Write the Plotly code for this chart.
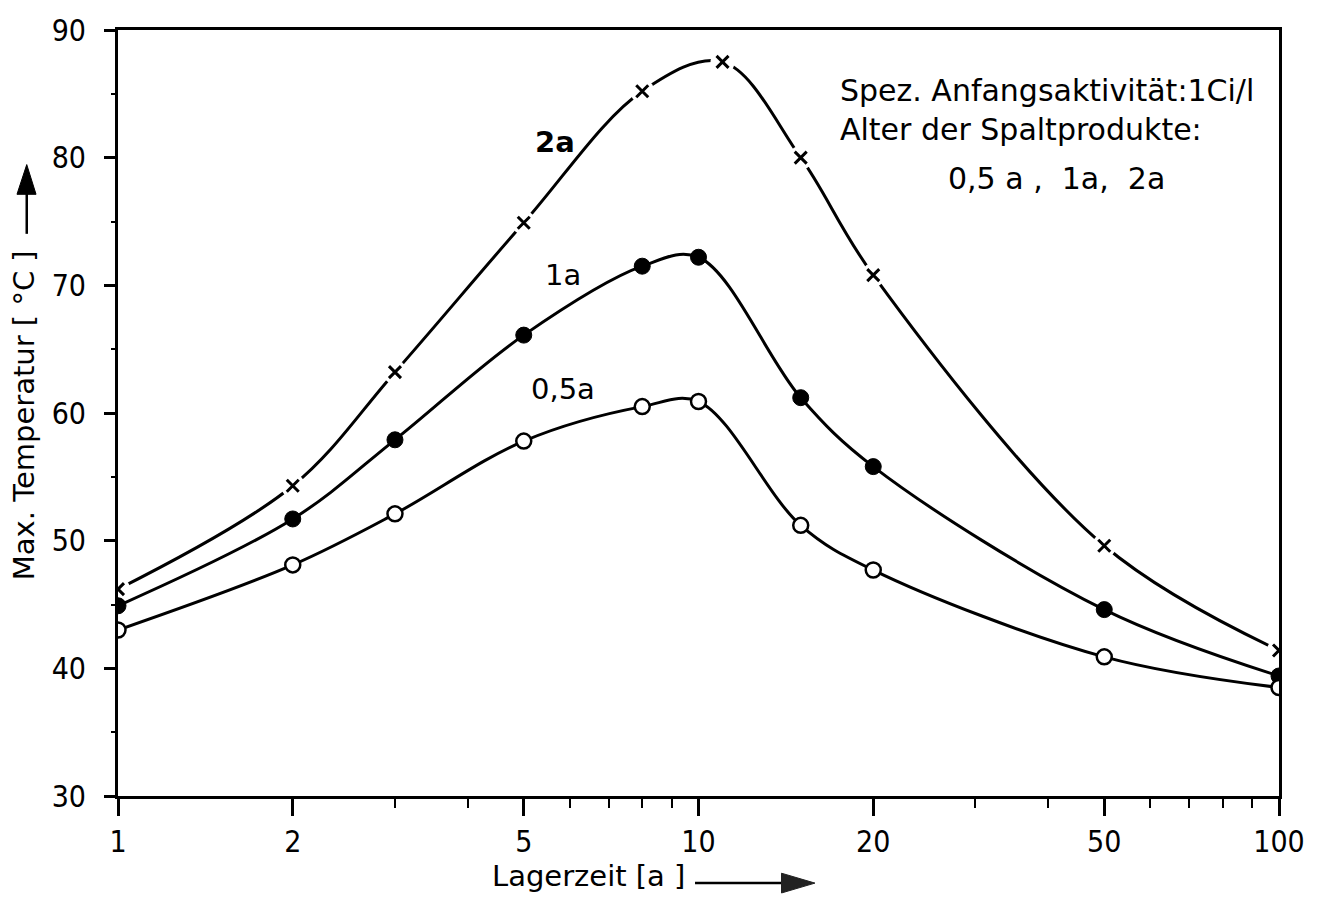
import plotly.graph_objects as go

# Data
x_2a = [1, 2, 3, 5, 8, 11, 15, 20, 50, 100]
y_2a = [46.2, 54.3, 63.2, 74.9, 85.2, 87.5, 80.0, 70.8, 49.6, 41.4]

x_1a = [1, 2, 3, 5, 8, 10, 15, 20, 50, 100]
y_1a = [44.9, 51.7, 57.9, 66.1, 71.5, 72.2, 61.2, 55.8, 44.6, 39.4]

x_05a = [1, 2, 3, 5, 8, 10, 15, 20, 50, 100]
y_05a = [43.0, 48.1, 52.1, 57.8, 60.5, 60.9, 51.2, 47.7, 40.9, 38.5]

x_tickvals = [1, 2, 5, 10, 20, 50, 100]
x_ticktext = ["1", "2", "5", "10", "20", "50", "100"]
x_minor = [3, 4, 6, 7, 8, 9, 30, 40, 60, 70, 80, 90]
y_tickvals = [30, 40, 50, 60, 70, 80, 90]

TICKFONT = "DejaVu Sans Condensed, DejaVu Sans, Arial, sans-serif"
TEXTFONT = "DejaVu Sans, Arial, sans-serif"

fig = go.Figure()

# 2a curve with gaps around crosses
fig.add_trace(go.Scatter(x=x_2a, y=y_2a, mode="lines",
                         line=dict(color="black", width=3, shape="spline", smoothing=1.0),
                         hoverinfo="skip", showlegend=False))
fig.add_trace(go.Scatter(x=x_2a, y=y_2a, mode="markers",
                         marker=dict(symbol="circle", size=24, color="white",
                                     line=dict(width=0)),
                         hoverinfo="skip", showlegend=False))
fig.add_trace(go.Scatter(x=x_2a, y=y_2a, mode="markers", name="2a",
                         marker=dict(symbol="x-thin", size=12,
                                     line=dict(width=3, color="black")),
                         showlegend=False))

# 1a curve
fig.add_trace(go.Scatter(x=x_1a, y=y_1a, mode="lines+markers", name="1a",
                         line=dict(color="black", width=3, shape="spline", smoothing=1.0),
                         marker=dict(symbol="circle", size=16, color="black",
                                     line=dict(width=1, color="black")),
                         showlegend=False))

# 0,5a curve
fig.add_trace(go.Scatter(x=x_05a, y=y_05a, mode="lines+markers", name="0,5a",
                         line=dict(color="black", width=3, shape="spline", smoothing=1.0),
                         marker=dict(symbol="circle", size=15, color="white",
                                     line=dict(width=2.5, color="black")),
                         showlegend=False))

annotations = [
    dict(x=0.753, y=81.2, xref="x", yref="y", text="<b>2a</b>", showarrow=False,
         font=dict(family=TEXTFONT, size=29, color="black")),
    dict(x=0.767, y=70.8, xref="x", yref="y", text="1a", showarrow=False,
         font=dict(family=TEXTFONT, size=29, color="black")),
    dict(x=0.766, y=61.9, xref="x", yref="y", text="0,5a", showarrow=False,
         font=dict(family=TEXTFONT, size=29, color="black")),
    dict(x=1.241, y=83.75, xref="x", yref="y", xanchor="left", yanchor="middle", align="left",
         text="Spez. Anfangsaktivität:1Ci/l<br>Alter der Spaltprodukte:", showarrow=False,
         font=dict(family=TEXTFONT, size=30, color="black")),
    dict(x=1.426, y=78.4, xref="x", yref="y", xanchor="left",
         text="0,5 a ,  1a,  2a", showarrow=False,
         font=dict(family=TEXTFONT, size=30, color="black")),
    # axis titles
    dict(x=0.3204, y=-0.1047, xref="paper", yref="paper", xanchor="left", yanchor="middle",
         text="Lagerzeit [a ]", showarrow=False,
         font=dict(family=TEXTFONT, size=29, color="black")),
    dict(x=-0.081, y=0.497, xref="paper", yref="paper", xanchor="center", yanchor="middle",
         text="Max. Temperatur [ °C ]", textangle=-90, showarrow=False,
         font=dict(family=TEXTFONT, size=29, color="black")),
]

shapes = [
    # x-axis arrow
    dict(type="line", xref="paper", yref="paper", x0=0.497, x1=0.572, y0=-0.1137, y1=-0.1137,
         line=dict(color="black", width=2.5)),
    dict(type="path", xref="paper", yref="paper",
         path="M 0.5715,-0.1008 L 0.6003,-0.1137 L 0.5715,-0.1266 Z",
         fillcolor="#222222", line=dict(color="#222222", width=1)),
    # y-axis arrow
    dict(type="line", xref="paper", yref="paper", x0=-0.0786, x1=-0.0786, y0=0.7339, y1=0.786,
         line=dict(color="black", width=2.5)),
    dict(type="path", xref="paper", yref="paper",
         path="M -0.0870,0.7855 L -0.0786,0.8243 L -0.0706,0.7855 Z",
         fillcolor="black", line=dict(color="black", width=1)),
]

fig.update_layout(
    width=1322, height=903,
    margin=dict(l=118, r=43, t=22, b=107),
    paper_bgcolor="white", plot_bgcolor="white",
    font=dict(family=TEXTFONT, size=29, color="black"),
    annotations=annotations, shapes=shapes,
    showlegend=False,
)

fig.update_xaxes(type="log", range=[0, 2],
                 tickvals=x_tickvals, ticktext=x_ticktext,
                 ticks="outside", ticklen=17, tickwidth=2.5, tickcolor="black",
                 minor=dict(tickvals=x_minor, ticks="outside", ticklen=9,
                            tickwidth=2, tickcolor="black", showgrid=False),
                 showline=True, linewidth=3, linecolor="black", mirror=True,
                 showgrid=False, zeroline=False,
                 tickfont=dict(family=TICKFONT, size=30, color="black"))

fig.update_yaxes(range=[30, 90], tickvals=y_tickvals,
                 ticks="outside", ticklen=11, tickwidth=2.5, tickcolor="black",
                 minor=dict(dtick=5, ticks="outside", ticklen=4,
                            tickwidth=2, tickcolor="black", showgrid=False),
                 showline=True, linewidth=3, linecolor="black", mirror=True,
                 showgrid=False, zeroline=False,
                 ticklabelstandoff=12,
                 tickfont=dict(family=TICKFONT, size=30, color="black"))

fig.write_html("out.html")
